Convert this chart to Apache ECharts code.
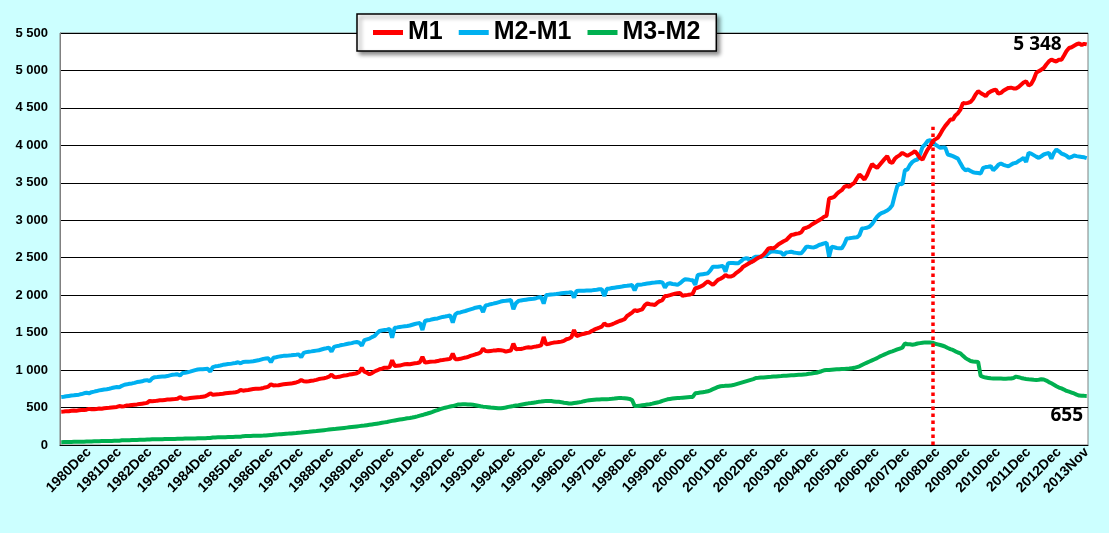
<!DOCTYPE html>
<html>
<head>
<meta charset="utf-8">
<script src="https://cdn.jsdelivr.net/npm/echarts@6/dist/echarts.min.js"></script>
<style>
html,body{margin:0;padding:0;background:#CCFFFF;}
#chart{width:1109px;height:533px;}
</style>
</head>
<body>
<div id="chart"></div>
<script>
// ---- categories (monthly, 1980Jan .. 2013Nov) ----
const monthNames = ['Jan','Feb','Mar','Apr','May','Jun','Jul','Aug','Sep','Oct','Nov','Dec'];
const startYear = 1980, endYear = 2013, endMonth = 11;
const categories = [];
for (let y = startYear; y <= endYear; y++) {
  for (let m = 0; m < 12; m++) {
    if (y === endYear && m >= endMonth) break;
    categories.push(y + monthNames[m]);
  }
}

const seriesNames = ['M1', 'M2-M1', 'M3-M2'];

// ---- M1 (one row per year) ----
const m1 = [
  445,447,452,450,456,460,458,463,466,468,472,482,
  476,478,482,486,484,490,494,496,500,504,508,520,
  514,518,528,530,534,538,542,548,552,556,562,588,
  584,586,592,596,598,602,606,608,612,614,618,640,
  620,618,622,626,630,634,638,640,645,650,668,690,
  672,674,676,680,684,690,694,698,700,705,712,735,
  725,730,735,742,748,751,752,755,762,770,780,810,
  795,796,798,805,810,815,818,820,828,835,845,868,
  850,848,852,858,862,870,880,886,892,900,912,940,
  908,906,910,920,928,932,940,945,950,958,975,1030,
  980,965,945,960,981,995,1011,1020,1033,1030,1040,1131,
  1056,1058,1060,1070,1078,1080,1078,1085,1090,1095,1105,1176,
  1100,1105,1110,1113,1115,1120,1131,1135,1140,1145,1150,1220,
  1144,1146,1150,1160,1167,1175,1190,1200,1211,1220,1235,1287,
  1255,1252,1256,1260,1262,1269,1266,1260,1247,1255,1262,1353,
  1278,1280,1282,1290,1300,1305,1300,1310,1315,1322,1330,1442,
  1344,1350,1360,1367,1370,1375,1380,1390,1411,1420,1440,1535,
  1455,1465,1478,1485,1495,1500,1522,1540,1555,1567,1580,1624,
  1598,1600,1611,1625,1640,1655,1665,1680,1722,1745,1767,1800,
  1789,1800,1811,1864,1891,1880,1875,1870,1900,1922,1935,1989,
  1990,2000,2011,2020,2026,2030,1991,2000,2004,2010,2020,2093,
  2100,2115,2130,2160,2182,2160,2137,2170,2204,2220,2240,2270,
  2250,2248,2260,2290,2315,2340,2381,2400,2420,2440,2455,2479,
  2500,2514,2540,2580,2625,2630,2625,2650,2680,2700,2720,2736,
  2770,2803,2810,2820,2825,2840,2892,2900,2914,2940,2960,2980,
  3000,3020,3047,3060,3291,3300,3313,3350,3380,3402,3446,3460,
  3446,3478,3500,3560,3611,3580,3544,3600,3680,3750,3720,3700,
  3740,3780,3820,3856,3780,3767,3820,3850,3870,3900,3880,3860,
  3880,3900,3922,3880,3830,3811,3880,3944,3990,4056,4080,4100,
  4150,4211,4260,4300,4344,4344,4400,4430,4478,4567,4560,4567,
  4580,4620,4680,4722,4700,4680,4656,4700,4720,4735,4744,4690,
  4700,4730,4750,4767,4770,4760,4760,4780,4810,4840,4856,4800,
  4820,4880,4967,4990,5010,5033,5080,5120,5144,5130,5120,5144,
  5144,5200,5260,5300,5310,5330,5350,5360,5340,5355,5348
];

// ---- M2-M1 ----
const m2m1 = [
  641,645,650,655,660,663,668,672,680,690,698,690,
  705,712,720,729,735,740,745,751,760,768,774,770,
  790,804,810,818,822,830,840,845,850,862,866,853,
  890,906,908,912,915,915,920,930,937,940,945,928,
  960,965,972,980,990,1000,1008,1010,1012,1015,1017,981,
  1040,1050,1055,1061,1070,1075,1080,1083,1090,1095,1105,1090,
  1108,1110,1112,1114,1118,1125,1130,1140,1150,1155,1158,1105,
  1165,1172,1180,1185,1190,1193,1195,1198,1202,1205,1210,1171,
  1230,1240,1246,1250,1255,1260,1265,1275,1285,1291,1300,1246,
  1310,1320,1326,1335,1340,1348,1355,1360,1370,1375,1365,1326,
  1400,1410,1420,1440,1455,1490,1522,1530,1535,1540,1550,1433,
  1567,1570,1575,1580,1585,1589,1595,1605,1615,1624,1630,1535,
  1655,1665,1670,1678,1685,1690,1700,1710,1715,1722,1730,1633,
  1744,1767,1770,1780,1789,1800,1810,1820,1833,1840,1845,1775,
  1864,1870,1880,1887,1895,1905,1915,1922,1925,1930,1935,1811,
  1891,1922,1930,1935,1940,1945,1950,1953,1960,1970,1975,1887,
  2002,2005,2010,2012,2015,2020,2025,2030,2033,2035,2040,1967,
  2055,2058,2060,2060,2062,2064,2064,2068,2072,2078,2080,1989,
  2085,2087,2095,2100,2105,2110,2115,2122,2125,2130,2135,2064,
  2138,2140,2144,2150,2155,2160,2165,2168,2172,2175,2170,2100,
  2150,2159,2150,2145,2137,2160,2190,2213,2210,2204,2200,2137,
  2270,2275,2280,2285,2293,2330,2381,2380,2381,2385,2390,2315,
  2426,2428,2430,2426,2426,2450,2480,2492,2490,2426,2500,2514,
  2514,2514,2520,2530,2560,2581,2585,2580,2575,2570,2537,2570,
  2575,2581,2570,2565,2560,2559,2600,2647,2645,2640,2638,2650,
  2670,2680,2692,2700,2514,2647,2640,2630,2625,2625,2680,2758,
  2760,2765,2770,2772,2800,2891,2895,2900,2914,2950,3000,3047,
  3080,3100,3113,3130,3157,3200,3335,3456,3490,3480,3668,3678,
  3740,3780,3801,3811,3880,3979,4011,4058,4069,4050,4011,3990,
  3967,3970,3970,3878,3868,3856,3840,3823,3760,3700,3668,3678,
  3659,3640,3633,3630,3624,3700,3710,3715,3722,3669,3700,3740,
  3758,3740,3730,3722,3740,3760,3767,3790,3810,3833,3780,3900,
  3890,3870,3850,3833,3855,3878,3890,3900,3820,3900,3944,3920,
  3890,3878,3860,3833,3845,3864,3856,3850,3845,3840,3830
];

// ---- M3-M2 ----
const m3m2 = [
  38,39,40,40,41,42,42,43,44,45,46,47,
  48,49,50,51,52,53,53,54,55,56,57,58,
  62,63,64,65,66,67,68,69,70,71,72,73,
  76,77,77,78,78,79,80,80,81,81,82,82,
  85,86,86,87,88,88,89,90,90,91,92,93,
  100,101,102,103,104,105,106,107,108,109,110,111,
  118,119,120,121,122,123,124,125,126,128,130,132,
  138,140,142,145,148,150,152,155,158,160,163,166,
  170,173,176,180,183,186,190,194,198,202,206,210,
  212,216,220,224,228,232,236,240,244,248,252,256,
  260,265,270,275,280,285,290,296,302,308,315,322,
  328,334,340,345,350,356,361,367,374,382,392,400,
  411,420,430,442,455,465,478,488,498,506,513,520,
  530,540,542,544,544,542,540,536,531,525,518,512,
  509,505,500,498,495,491,490,495,500,509,515,520,
  528,532,538,544,550,556,560,565,570,576,580,585,
  589,588,586,582,578,576,572,565,560,553,555,560,
  565,570,576,585,592,598,602,605,607,608,610,611,
  611,613,616,620,625,629,626,624,620,615,600,522,
  520,525,530,535,540,545,552,560,568,576,590,600,
  610,615,620,625,628,629,632,635,638,640,642,690,
  695,700,705,710,717,730,745,760,775,784,786,790,
  792,793,800,810,820,830,840,850,860,870,880,895,
  897,900,902,905,908,910,913,915,918,920,923,926,
  928,930,932,935,937,939,942,945,950,955,961,965,
  975,985,997,1000,1002,1005,1008,1010,1012,1015,1015,1018,
  1020,1025,1030,1040,1050,1068,1085,1100,1115,1130,1145,1160,
  1180,1195,1210,1225,1240,1250,1262,1275,1288,1300,1355,1345,
  1345,1339,1345,1355,1360,1365,1370,1368,1367,1366,1352,1344,
  1335,1325,1313,1295,1280,1269,1250,1235,1224,1190,1160,1140,
  1122,1115,1112,1109,922,910,900,895,890,888,887,887,
  887,886,886,887,887,895,913,905,895,887,882,878,
  875,870,869,872,878,875,860,840,824,805,785,767,
  755,740,722,712,700,688,672,660,658,656,655
];

// ---- axis / annotation settings ----
const yMin = 0, yMax = 5500, yStep = 500;
const markCategory = '2008Oct';
const markTop = 4250;

const fmtThousands = v => String(v).replace(/\B(?=(\d{3})+(?!\d))/g, ' ');
const lastIdx = categories.length - 1;
const lastCat = categories[lastIdx];

const chart = echarts.init(document.getElementById('chart'), null, {renderer: 'canvas'});
const font = 'Liberation Sans, Arial, sans-serif';

chart.setOption({
  animation: false,
  backgroundColor: '#CCFFFF',
  grid: {
    left: 60, right: 21, top: 33, bottom: 88,
    show: true, backgroundColor: '#ffffff', borderColor: '#808080', borderWidth: 1
  },
  legend: {
    data: seriesNames,
    left: 357, top: 14,
    icon: 'rect', itemWidth: 30, itemHeight: 5, itemGap: 16,
    padding: [6, 16],
    backgroundColor: '#ffffff', borderColor: '#000000', borderWidth: 1.5,
    shadowBlur: 4, shadowColor: 'rgba(0,0,0,0.45)', shadowOffsetX: 3, shadowOffsetY: 3,
    textStyle: {fontFamily: font, fontWeight: 'bold', fontSize: 25, color: '#000'}
  },
  xAxis: {
    type: 'category',
    data: categories,
    boundaryGap: true,
    axisLine: {lineStyle: {color: '#000', width: 1}},
    axisTick: {interval: 0, length: 4, lineStyle: {color: '#000', width: 1}},
    axisLabel: {
      interval: (idx, val) => val.slice(4) === 'Dec' || idx === lastIdx,
      rotate: 45, margin: 5,
      fontFamily: font, fontWeight: 'bold', fontSize: 14, color: '#000'
    },
    splitLine: {show: false}
  },
  yAxis: {
    type: 'value',
    min: yMin, max: yMax, interval: yStep,
    axisLine: {show: true, lineStyle: {color: '#808080', width: 1}},
    axisTick: {show: false},
    axisLabel: {
      formatter: fmtThousands, margin: 12,
      fontFamily: font, fontWeight: 'bold', fontSize: 13, color: '#000'
    },
    splitLine: {lineStyle: {color: '#000', width: 1}}
  },
  series: [
    {
      name: seriesNames[0], type: 'line', data: m1,
      symbol: 'none', color: '#FF0000', lineStyle: {width: 4, color: '#FF0000'}, z: 4,
      markLine: {
        silent: true, symbol: ['none', 'none'],
        lineStyle: {color: '#FF0000', width: 3.5, type: [3.5, 3.5]},
        label: {show: false},
        data: [[{coord: [markCategory, yMin]}, {coord: [markCategory, markTop]}]]
      },
      markPoint: {
        symbol: 'circle', symbolSize: 0, silent: true,
        data: [{coord: [lastCat, m1[lastIdx]], value: m1[lastIdx]}],
        label: {
          show: true, position: 'left', distance: 25,
          formatter: p => fmtThousands(p.value),
          fontFamily: 'Noto Sans, sans-serif', fontWeight: 'bold', fontSize: 19, color: '#000'
        }
      }
    },
    {
      name: seriesNames[1], type: 'line', data: m2m1,
      symbol: 'none', color: '#00B0F0', lineStyle: {width: 4, color: '#00B0F0'}, z: 3
    },
    {
      name: seriesNames[2], type: 'line', data: m3m2,
      symbol: 'none', color: '#00B050', lineStyle: {width: 4, color: '#00B050'}, z: 2,
      markPoint: {
        symbol: 'circle', symbolSize: 0, silent: true,
        data: [{coord: [lastCat, m3m2[lastIdx]], value: m3m2[lastIdx]}],
        label: {
          show: true, position: 'bottom', distance: 10, offset: [-20, 0],
          formatter: p => fmtThousands(p.value),
          fontFamily: 'Noto Sans, sans-serif', fontWeight: 'bold', fontSize: 19, color: '#000'
        }
      }
    }
  ]
});
</script>
</body>
</html>
